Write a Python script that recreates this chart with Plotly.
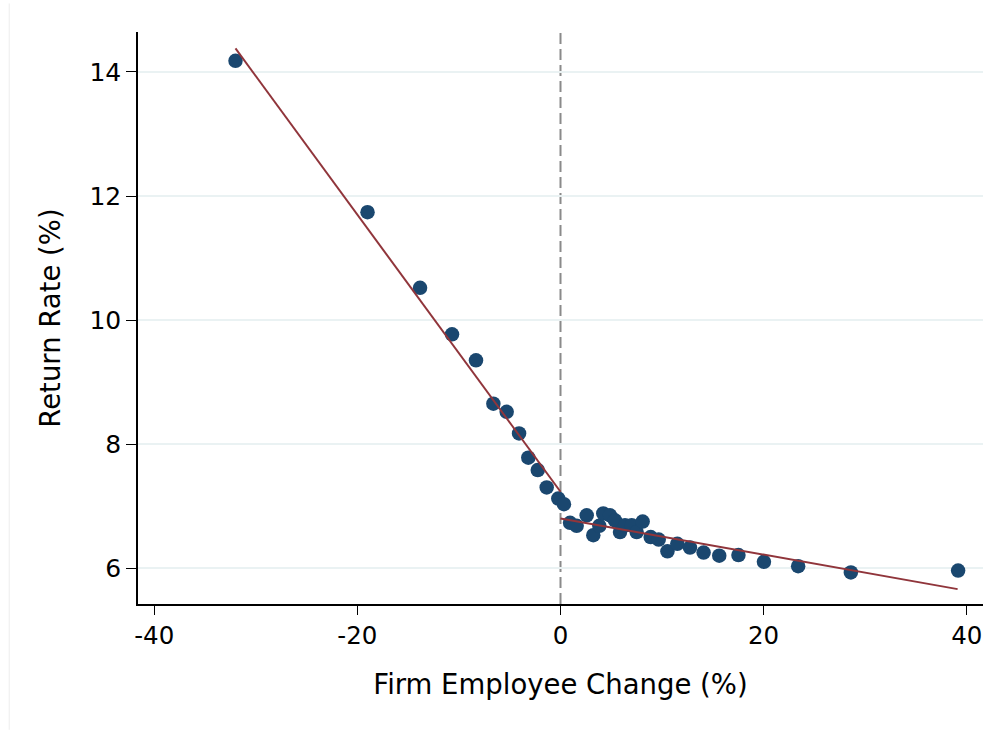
import plotly.graph_objects as go

# Binned means: firm employee change (%) vs. return rate (%)
emp_change = [-32.0, -19.0, -13.83, -10.68, -8.32, -6.61, -5.30, -4.08, -3.17, -2.24,
              -1.36, -0.22, 0.34, 0.94, 1.59, 2.58, 3.23, 3.82, 4.21, 4.87,
              5.36, 5.86, 6.35, 7.01, 7.50, 8.09, 8.88, 9.67, 10.53, 11.50,
              12.75, 14.09, 15.63, 17.52, 20.03, 23.40, 28.59, 39.15]
return_rate = [14.18, 11.74, 10.52, 9.77, 9.35, 8.65, 8.52, 8.17, 7.78, 7.58,
               7.30, 7.12, 7.03, 6.73, 6.68, 6.85, 6.53, 6.68, 6.88, 6.85,
               6.77, 6.58, 6.69, 6.69, 6.58, 6.75, 6.50, 6.46, 6.27, 6.39,
               6.33, 6.25, 6.20, 6.21, 6.10, 6.03, 5.93, 5.96]

# Linear fits on each side of zero
fit_left_x = [-32.0, 0.0]
fit_left_y = [14.38, 7.23]
fit_right_x = [0.0, 39.1]
fit_right_y = [6.80, 5.66]

x_ticks = [-40, -20, 0, 20, 40]
y_ticks = [6, 8, 10, 12, 14]

navy = "#1a476f"
maroon = "#90353b"
font = "DejaVu Sans"

fig = go.Figure()
fig.add_trace(go.Scatter(x=emp_change, y=return_rate, mode="markers",
                         marker=dict(color=navy, size=14.5, line=dict(width=0))))
fig.add_trace(go.Scatter(x=fit_left_x, y=fit_left_y, mode="lines",
                         line=dict(color=maroon, width=2)))
fig.add_trace(go.Scatter(x=fit_right_x, y=fit_right_y, mode="lines",
                         line=dict(color=maroon, width=2)))

# Cutoff marker at zero
fig.add_shape(type="line", xref="x", yref="paper", x0=0, x1=0, y0=0, y1=1,
              line=dict(color="#8a8a8a", width=2, dash="11px,5px"), layer="below")
# Faint outer frame edge
fig.add_shape(type="line", xref="paper", yref="paper", x0=-0.1524, x1=-0.1524,
              y0=-0.22, y1=1.05, line=dict(color="#eeeeee", width=1))

fig.update_layout(
    width=999, height=730,
    margin=dict(l=138, r=16, t=32, b=126),
    paper_bgcolor="white", plot_bgcolor="white",
    showlegend=False,
    font=dict(family=font, color="black", size=24),
    xaxis=dict(range=[-41.6, 41.6], tickvals=x_ticks, ticktext=[str(v) for v in x_ticks],
               showgrid=False, zeroline=False, showline=True, linecolor="black", linewidth=1.5,
               ticks="outside", ticklen=9, tickwidth=1.2, tickcolor="black",
               tickfont=dict(size=24.5, family=font),
               title=dict(text="Firm Employee Change (%)", font=dict(size=27.5, family=font), standoff=26)),
    yaxis=dict(range=[5.42, 14.645], tickvals=y_ticks, ticktext=[str(v) for v in y_ticks],
               showgrid=True, gridcolor="#eaf2f3", gridwidth=2, zeroline=False,
               showline=True, linecolor="black", linewidth=1.5,
               ticks="outside", ticklen=10, tickwidth=1.2, tickcolor="black",
               tickfont=dict(size=25, family=font),
               title=dict(text="Return Rate (%)", font=dict(size=27.5, family=font), standoff=21)),
)

fig.write_html("out.html")
